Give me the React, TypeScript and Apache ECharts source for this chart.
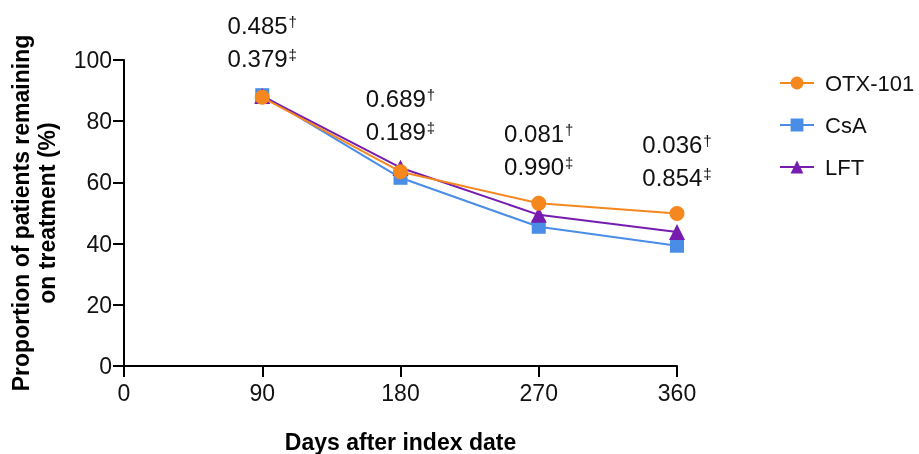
import React, { useEffect, useRef } from "react";
import * as echarts from "echarts";

const days = [90, 180, 270, 360];
const otx101 = [87.8, 63.5, 53.2, 49.8];
const csa = [88.5, 61.5, 45.5, 39.3];
const lft = [88.2, 64.8, 49.4, 43.8];
const pDagger = ["0.485", "0.689", "0.081", "0.036"];
const pDoubleDagger = ["0.379", "0.189", "0.990", "0.854"];
const xTicks = [0, 90, 180, 270, 360];

const ORANGE = "#F5871F";
const BLUE = "#4A8DE6";
const PURPLE = "#761CAE";
const FONT = "Liberation Sans, Arial, sans-serif";

export default function App() {
  const ref = useRef<HTMLDivElement>(null);
  useEffect(() => {
    if (!ref.current) return;
    const chart = echarts.init(ref.current, null, { renderer: "svg" });
    const mk = (name: string, vals: number[], color: string, symbol: string, size: number, z: number) => ({
      name,
      type: "line",
      data: days.map((d, i) => [d, vals[i]]),
      symbol,
      symbolSize: size,
      lineStyle: { color, width: 2 },
      itemStyle: { color },
      z,
    });
    const annData = days.map((d, i) => ({
      value: [d, Math.max(otx101[i], csa[i], lft[i])],
      label: {
        formatter: `${pDagger[i]}{sup|†}\n${pDoubleDagger[i]}{sup|‡}`,
      },
    }));
    chart.setOption({
      animation: false,
      textStyle: { fontFamily: FONT },
      grid: { left: 124, right: 242, top: 60, bottom: 88, containLabel: false, outerBoundsMode: "none" },
      legend: {
        orient: "vertical",
        left: 774,
        top: 67,
        itemGap: 20,
        itemWidth: 34,
        itemHeight: 16,
        textStyle: { fontSize: 22, lineHeight: 22, color: "#111", fontFamily: FONT, padding: [0, 0, 0, 6] },
        data: ["OTX-101", "CsA", "LFT"],
      },
      xAxis: {
        type: "value",
        min: 0,
        max: 360,
        interval: 90,
        splitLine: { show: false },
        axisLine: { lineStyle: { color: "#000", width: 2 } },
        axisTick: { length: 11, lineStyle: { color: "#000", width: 2 } },
        axisLabel: { fontSize: 23, color: "#111", margin: 15, fontFamily: FONT, customValues: xTicks },
        name: "Days after index date",
        nameLocation: "middle",
        nameGap: 64,
        nameTextStyle: { fontSize: 23, fontWeight: "bold", color: "#000", fontFamily: FONT },
      },
      yAxis: {
        type: "value",
        min: 0,
        max: 100,
        interval: 20,
        splitLine: { show: false },
        axisLine: { show: true, lineStyle: { color: "#000", width: 2 } },
        axisTick: { show: true, length: 11, lineStyle: { color: "#000", width: 2 } },
        axisLabel: { fontSize: 23, color: "#111", margin: 12, fontFamily: FONT },
        name: "Proportion of patients remaining\non treatment (%)",
        nameLocation: "middle",
        nameGap: 64,
        nameTextStyle: { fontSize: 23, fontWeight: "bold", color: "#000", lineHeight: 26, fontFamily: FONT },
      },
      series: [
        mk("OTX-101", otx101, ORANGE, "circle", 15, 5),
        mk("CsA", csa, BLUE, "rect", 14, 3),
        mk("LFT", lft, PURPLE, "triangle", 16, 4),
        {
          name: "pvalues",
          type: "scatter",
          data: annData,
          symbolSize: 0,
          clip: false,
          silent: true,
          z: 6,
          itemStyle: { opacity: 1 },
          label: {
            show: true,
            position: "top",
            distance: 20,
            fontSize: 24,
            color: "#111",
            opacity: 1,
            lineHeight: 33,
            fontFamily: FONT,
            rich: {
              sup: { fontSize: 15, color: "#111", lineHeight: 33, verticalAlign: "top", padding: [5, 0, 0, 1], fontFamily: FONT },
            },
          },
        },
      ],
    });
    return () => chart.dispose();
  }, []);
  return <div ref={ref} style={{ position: "fixed", left: 0, top: 0, width: 919, height: 454 }} />;
}
